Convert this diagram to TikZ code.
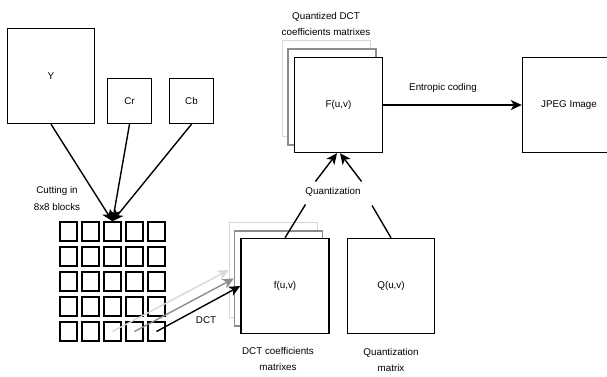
\documentclass[tikz,border=0pt]{standalone}
\usepackage{fontspec}
\setmainfont{Liberation Sans}
\usetikzlibrary{arrows.meta}

\definecolor{paleline}{HTML}{D8D8D8}
\definecolor{midline}{HTML}{8C8C8C}

\tikzset{
  plane/.style={draw, line width=1.4pt, fill=white, inner sep=0pt},
  cell/.style={draw, line width=1.4pt, inner sep=0pt, minimum width=17pt, minimum height=19pt},
  lbl/.style={align=center, font=\fontsize{9.8}{16.5}\selectfont},
}

\begin{document}
\begin{tikzpicture}[x=1pt, y=-1pt, font=\fontsize{9.8}{12}\selectfont,
    line width=1.4pt, >={Stealth[length=11pt,width=10pt,inset=3pt]}]
    \useasboundingbox (0,0) rectangle (607,376);

    % image planes
    \node[plane, minimum width=87pt, minimum height=95pt] (Y) at (51,76) {Y};
    \node[plane, minimum width=44pt, minimum height=45pt] (Cr) at (129.5,101) {Cr};
    \node[plane, minimum width=44pt, minimum height=45pt] (Cb) at (191.5,101) {Cb};

    % 8x8 blocks
    \node[lbl] (cut) at (57,198.5) {Cutting in\\8x8 blocks};
    \foreach \i in {1,...,5}
        \foreach \j in {1,...,5}
            \node[cell] (c\i\j) at ({46.5+22*\j},{206.5+25*\i}) {};

    \draw[->] (Y.south) -- (c13.north);
    \draw[->] (Cr.south) -- (c13.north);
    \draw[->] (Cb.south) -- (c13.north);

    % DCT matrices
    \node[plane, draw=paleline, minimum width=88pt, minimum height=95pt] (fl) at (273.5,270) {};
    \node[plane, draw=midline, minimum width=88pt, minimum height=95pt] (fg) at (278.5,278.5) {};
    \node[plane, minimum width=88pt, minimum height=95pt] (f) at (285,286) {f(u,v)};
    \node[lbl] (flbl) at (278,359) {DCT coefficients\\matrixes};

    \draw[->, paleline] (c53.center) -- (fl.west);
    \draw[->, midline] (c54.center) -- (fg.west);
    \draw[->] (c55.center) -- (f.west);
    \node (dct) at (206,320) {DCT};

    % quantization matrix
    \node[plane, minimum width=87pt, minimum height=95pt] (Q) at (391,286) {Q(u,v)};
    \node[lbl] (qlbl) at (391,360) {Quantization\\matrix};

    % quantized matrices
    \node[plane, draw=paleline, minimum width=88pt, minimum height=96pt] (Fl) at (326.5,88.5) {};
    \node[plane, draw=midline, minimum width=88pt, minimum height=96pt] (Fg) at (332,97) {};
    \node[plane, minimum width=88pt, minimum height=95pt] (F) at (338.5,105) {F(u,v)};
    \node[lbl] (Flbl) at (326,24) {Quantized DCT\\coefficients matrixes};

    \node (quant) at (333,192) {Quantization};
    \draw (f.north) -- ([xshift=4pt,yshift=-4pt]quant.south west);
    \draw (Q.north) -- ([xshift=7.5pt,yshift=-5pt]quant.south east);
    \draw[->] ([xshift=14pt,yshift=2pt]quant.north west) -- ([xshift=-1.5pt]F.south);
    \draw[->] ([xshift=-3pt,yshift=2pt]quant.north east) -- ([xshift=1.5pt]F.south);

    % output
    \node[plane, minimum width=93pt, minimum height=95pt] (jpeg) at (569,105) {JPEG Image};
    \draw[->] (F.east) -- (jpeg.west);
    \node (ent) at (443,88) {Entropic coding};

\end{tikzpicture}
\end{document}
